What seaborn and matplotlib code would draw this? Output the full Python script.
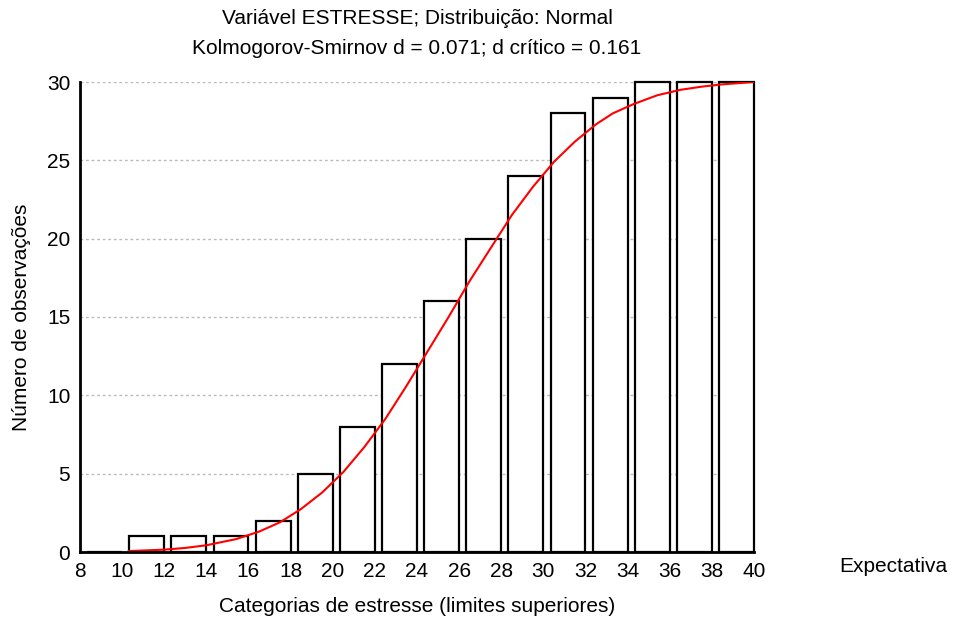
import matplotlib.pyplot as plt
import pandas as pd
import seaborn as sns

# observed cumulative counts by category upper limit
upper_limits = [10, 12, 14, 16, 18, 20, 22, 24, 26, 28, 30, 32, 34, 36, 38, 40]
observed = [0, 1, 1, 1, 2, 5, 8, 12, 16, 20, 24, 28, 29, 30, 30, 30]

# expected (normal) cumulative curve
expected_x = [10.3, 12, 13, 14, 15.4, 16.5, 17.5, 18.5, 19.5, 20.5, 21.5, 22.5,
              23.5, 24.5, 25.5, 26.5, 27.5, 28.5, 29.5, 30.5, 31.5, 32.5, 33.3,
              34.3, 35.4, 36.5, 37.5, 38.5, 40]
expected_y = [0.06, 0.15, 0.26, 0.43, 0.82, 1.3, 1.9, 2.75, 3.8, 5.1, 6.7, 8.5,
              10.6, 12.8, 15.0, 17.3, 19.4, 21.5, 23.3, 24.9, 26.2, 27.3, 28.0,
              28.6, 29.15, 29.5, 29.7, 29.85, 30.0]

title_1 = "Variável ESTRESSE; Distribuição: Normal"
title_2 = "Kolmogorov-Smirnov d = 0.071; d crítico = 0.161"
xlabel = "Categorias de estresse (limites superiores)"
ylabel = "Número de observações"
legend_text = "Expectativa"

sns.set_style("white")
plt.rcParams["font.family"] = ["Liberation Sans", "DejaVu Sans"]
plt.rcParams["text.color"] = "black"
plt.rcParams["xtick.color"] = "black"
plt.rcParams["ytick.color"] = "black"
fs = 15

bar_w = 1.66
bars = pd.DataFrame({"pos": [u - bar_w / 2 for u in upper_limits], "count": observed})
curve = pd.DataFrame({"x": expected_x, "y": expected_y})

fig = plt.figure(figsize=(9.54, 6.23), dpi=100)
ax = fig.add_axes([80 / 954, 1 - 552 / 623, 674 / 954, 470 / 623])

ax.yaxis.grid(True, color="#bbbbbb", linestyle=(0, (2, 2)), linewidth=1)
ax.set_axisbelow(True)

sns.barplot(data=bars, x="pos", y="count", native_scale=True, width=bar_w / 2,
            color="white", edgecolor="black", linewidth=1.6, errorbar=None,
            saturation=1, ax=ax)
for p in ax.patches:
    p.set_clip_on(False)
sns.lineplot(data=curve, x="x", y="y", color="red", linewidth=1.5, ax=ax)

ax.set_xlim(8, 40)
ax.set_ylim(0, 30)
ax.set_xticks(range(8, 41, 2))
ax.set_yticks(range(0, 31, 5))
ax.tick_params(length=0, labelsize=fs)
ax.tick_params(axis="x", pad=7)
ax.tick_params(axis="y", pad=7)
for s in ["top", "right"]:
    ax.spines[s].set_visible(False)
for s in ["left", "bottom"]:
    ax.spines[s].set_color("black")
    ax.spines[s].set_linewidth(2)
ax.set_xlabel("")
ax.set_ylabel("")

fig.text(417 / 954, 1 - 18 / 623, title_1, ha="center", va="center", fontsize=fs)
fig.text(417 / 954, 1 - 48 / 623, title_2, ha="center", va="center", fontsize=fs)
fig.text(417 / 954, 1 - 607 / 623, xlabel, ha="center", va="center", fontsize=fs)
fig.text(22 / 954, 1 - 317 / 623, ylabel, ha="center", va="center", rotation=90, fontsize=fs)
fig.text(893 / 954, 1 - 567 / 623, legend_text, ha="center", va="center", fontsize=fs)

fig.savefig("out.png", dpi=100)
